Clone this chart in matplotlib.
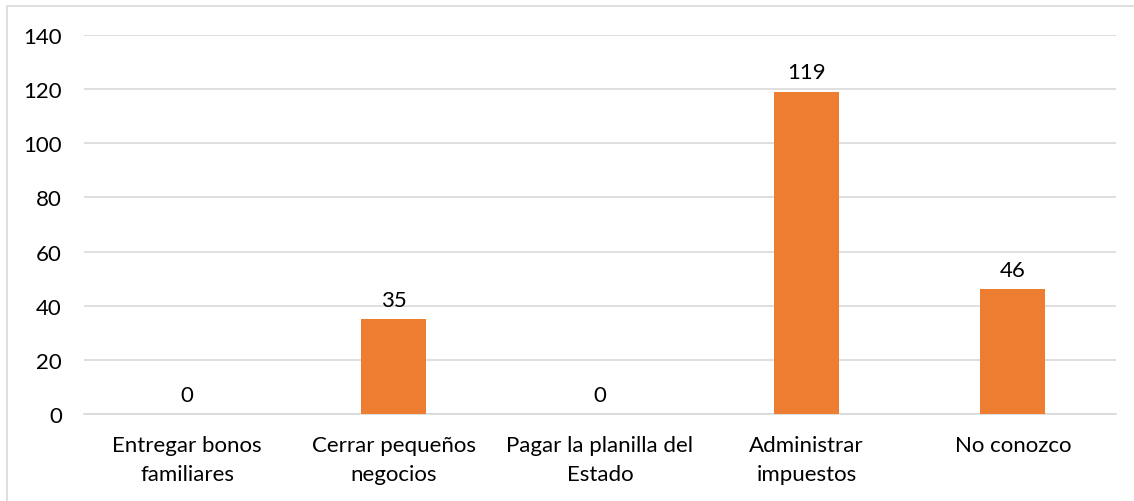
import matplotlib
matplotlib.use('Agg')
import matplotlib.pyplot as plt
from matplotlib.patches import Rectangle

# data
categories = ['Entregar bonos\nfamiliares', 'Cerrar pequeños\nnegocios',
              'Pagar la planilla del\nEstado', 'Administrar\nimpuestos',
              'No conozco']
values = [0, 35, 0, 119, 46]
yticks = [0, 20, 40, 60, 80, 100, 120, 140]

plt.rcParams['font.family'] = ['Lato', 'DejaVu Sans']
fs = 16

fig = plt.figure(figsize=(11.34, 5.02), dpi=100)
ax = fig.add_axes([84/1134, 1-415/502, (1116-84)/1134, (415-36)/502])

# outer chart border (cut off on right and bottom like the source)
fig.patches.append(Rectangle((7/1134, -0.1), 1.2, 1-7/502+0.1,
                             transform=fig.transFigure, fill=False,
                             edgecolor='#d9d9d9', linewidth=1.2))

x = range(len(categories))
bars = ax.bar(x, values, width=0.315, color='#ED7D31', zorder=3)
for xi, v in zip(x, values):
    ax.text(xi, v + 3.5, str(v), ha='center', va='bottom', fontsize=fs,
            color='#000000')

ax.set_xlim(-0.5, len(categories) - 0.5)
ax.set_ylim(0, 140)
ax.set_yticks(yticks)
ax.set_xticks(list(x))
ax.set_xticklabels(categories, fontsize=fs, linespacing=1.6)
ax.tick_params(axis='y', labelsize=fs, length=0, pad=16)
ax.tick_params(axis='x', length=0, pad=15)
ax.grid(axis='y', color='#d9d9d9', linewidth=1.2, zorder=0)
for s in ['top', 'right', 'left']:
    ax.spines[s].set_visible(False)
ax.spines['bottom'].set_color('#d9d9d9')
ax.spines['bottom'].set_linewidth(1.2)

fig.savefig('out.png', dpi=100)
